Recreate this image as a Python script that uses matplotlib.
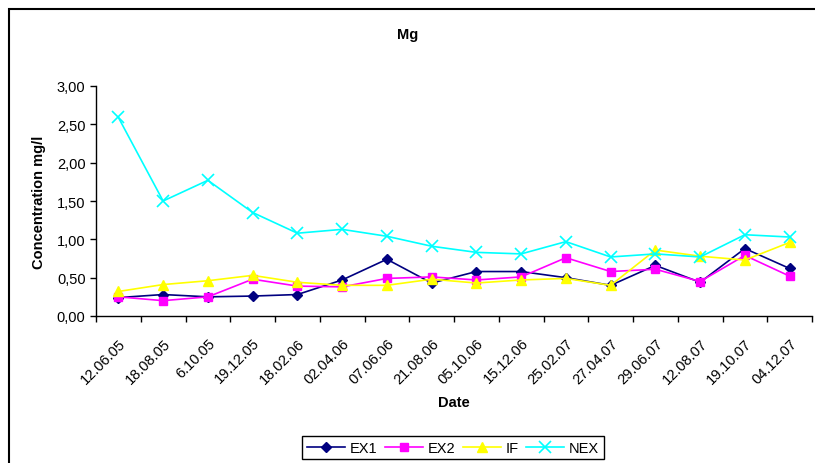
import matplotlib.pyplot as plt
from matplotlib.patches import Rectangle

plt.rcParams['font.family'] = ['Liberation Sans', 'DejaVu Sans']
plt.rcParams['font.size'] = 10.5

# sampling dates and Mg concentrations (mg/l)
dates = ['12.06.05', '18.08.05', '6.10.05', '19.12.05', '18.02.06', '02.04.06',
         '07.06.06', '21.08.06', '05.10.06', '15.12.06', '25.02.07', '27.04.07',
         '29.06.07', '12.08.07', '19.10.07', '04.12.07']
ex1 = [0.24, 0.28, 0.25, 0.26, 0.28, 0.47, 0.74, 0.43, 0.58, 0.58, 0.50, 0.40, 0.66, 0.44, 0.88, 0.62]
ex2 = [0.25, 0.20, 0.25, 0.48, 0.39, 0.38, 0.49, 0.51, 0.47, 0.51, 0.76, 0.58, 0.61, 0.45, 0.79, 0.52]
if_ = [0.32, 0.41, 0.46, 0.53, 0.44, 0.40, 0.40, 0.48, 0.43, 0.47, 0.49, 0.40, 0.86, 0.78, 0.73, 0.96]
nex = [2.59, 1.50, 1.77, 1.35, 1.08, 1.13, 1.04, 0.91, 0.83, 0.81, 0.97, 0.77, 0.81, 0.77, 1.06, 1.03]

fig = plt.figure(figsize=(8.15, 4.64), dpi=100)
ax = fig.add_axes([96 / 815, 1 - 317 / 464, 716 / 815, 230 / 464])

x = list(range(len(dates)))
ax.plot(x, ex1, color='#000080', marker='D', markersize=5, lw=1.2, label='EX1')
ax.plot(x, ex2, color='#FF00FF', marker='s', markersize=6, lw=1.2, label='EX2')
ax.plot(x, if_, color='#FFFF00', marker='^', markersize=7, lw=1.2, label='IF')
ax.plot(x, nex, color='#00FFFF', marker='x', markersize=8, mew=1.2, lw=1.2, label='NEX')

ax.set_xlim(-0.5, len(dates) - 0.5)
ax.set_ylim(0, 3)
ax.set_yticks([0, 0.5, 1, 1.5, 2, 2.5, 3])
ax.set_yticklabels([f'{v:.2f}'.replace('.', ',') for v in ax.get_yticks()])

# excel style: ticks between categories, labels at the centre
ax.set_xticks([i - 0.5 for i in range(len(dates) + 1)])
ax.set_xticklabels([])
ax.set_xticks(x, minor=True)
ax.set_xticklabels(dates, minor=True, rotation=45, ha='right', rotation_mode='anchor')
ax.tick_params(axis='x', which='minor', length=0, pad=14)
ax.tick_params(axis='both', which='major', length=4, width=1, direction='out')

for s in ['top', 'right']:
    ax.spines[s].set_visible(False)
ax.spines['left'].set_linewidth(1)
ax.spines['bottom'].set_linewidth(1)

ax.set_xlabel('Date', fontweight='bold', labelpad=7)
ax.set_ylabel('Concentration mg/l', fontweight='bold', labelpad=8)
fig.text(408 / 815, 1 - 35 / 464, 'Mg', ha='center', va='center', fontweight='bold')

# chart area border (cut off on the right and bottom in the original)
fig.patches.append(Rectangle((9 / 815, -0.1), 1.2, 1.1 - 10 / 464, transform=fig.transFigure,
                             fill=False, edgecolor='black', lw=1.5))

fig.legend(loc='upper center', bbox_to_anchor=(453 / 815, 1 - 430 / 464), ncol=4,
           fancybox=False, edgecolor='black', framealpha=1, handlelength=2.6,
           columnspacing=0.5, handletextpad=0.35, borderpad=0.3)

fig.savefig('out.png', dpi=100)
